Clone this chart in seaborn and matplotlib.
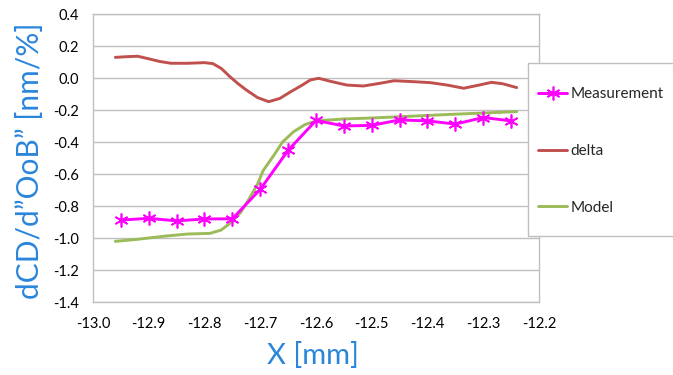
import matplotlib
matplotlib.use("Agg")
import matplotlib.pyplot as plt
import matplotlib.patches as mpatches
import seaborn as sns
import numpy as np

# ---- data ----
meas_x = [-12.95, -12.90, -12.85, -12.80, -12.75, -12.70, -12.65, -12.60,
          -12.55, -12.50, -12.45, -12.40, -12.35, -12.30, -12.25]
meas_y = [-0.888, -0.877, -0.893, -0.881, -0.880, -0.696, -0.452, -0.265,
          -0.300, -0.296, -0.262, -0.268, -0.288, -0.247, -0.268]

delta_x = [-12.96, -12.935, -12.92, -12.90, -12.88, -12.86, -12.83, -12.80,
           -12.785, -12.77, -12.755, -12.74, -12.725, -12.705, -12.685, -12.665,
           -12.645, -12.625, -12.61, -12.595, -12.575, -12.545, -12.515, -12.485,
           -12.46, -12.425, -12.395, -12.365, -12.335, -12.31, -12.285, -12.265,
           -12.24]
delta_y = [0.129, 0.134, 0.136, 0.120, 0.103, 0.092, 0.092, 0.096,
           0.090, 0.060, 0.010, -0.035, -0.075, -0.122, -0.148, -0.128,
           -0.085, -0.045, -0.012, -0.002, -0.020, -0.044, -0.050, -0.033,
           -0.017, -0.023, -0.029, -0.044, -0.064, -0.046, -0.027, -0.036,
           -0.060]

model_x = [-12.96, -12.92, -12.87, -12.83, -12.79, -12.77, -12.755, -12.735,
           -12.72, -12.705, -12.695, -12.675, -12.66, -12.64, -12.62, -12.60,
           -12.575, -12.55, -12.50, -12.45, -12.40, -12.35, -12.30, -12.24]
model_y = [-1.021, -1.008, -0.988, -0.975, -0.971, -0.950, -0.910, -0.840,
           -0.755, -0.665, -0.580, -0.480, -0.400, -0.335, -0.292, -0.268,
           -0.262, -0.256, -0.250, -0.242, -0.234, -0.226, -0.219, -0.210]

x_ticks = [-13.0, -12.9, -12.8, -12.7, -12.6, -12.5, -12.4, -12.3, -12.2]
y_ticks = [0.4, 0.2, 0.0, -0.2, -0.4, -0.6, -0.8, -1.0, -1.2, -1.4]

series_names = ["Measurement", "delta", "Model"]
series_colors = ["#FF00FF", "#C0504D", "#9BBB59"]

# ---- style ----
sns.set_style("white")
plt.rcParams["font.family"] = ["Lato", "DejaVu Sans"]

W, H = 673, 375
fig = plt.figure(figsize=(W / 100, H / 100), dpi=100)
L, R, T, B = 93, 539, 14, 302
ax = fig.add_axes([L / W, 1 - B / H, (R - L) / W, (B - T) / H])

lw = 2.1
sns.lineplot(x=meas_x, y=meas_y, ax=ax, color=series_colors[0], lw=lw,
             marker=(6, 2, 0), markersize=10, markeredgewidth=1.2,
             markeredgecolor=series_colors[0], label=series_names[0], zorder=4)
sns.lineplot(x=delta_x, y=delta_y, ax=ax, color=series_colors[1], lw=lw,
             label=series_names[1], zorder=3)
sns.lineplot(x=model_x, y=model_y, ax=ax, color=series_colors[2], lw=lw,
             label=series_names[2], zorder=3)

ax.set_xlim(-13.0, -12.2)
ax.set_ylim(-1.4, 0.4)
ax.set_xticks(x_ticks)
ax.set_xticklabels([f"{v:.1f}" for v in x_ticks])
ax.set_yticks(y_ticks)
ax.set_yticklabels([f"{v:.1f}" for v in y_ticks])
ax.tick_params(axis="both", length=0, labelsize=10.5, colors="#000000")
ax.tick_params(axis="y", pad=10)
ax.tick_params(axis="x", pad=11)
ax.yaxis.grid(True, color="#BFBFBF", lw=1.0)
ax.xaxis.grid(False)
for s in ax.spines.values():
    s.set_color("#BFBFBF")
    s.set_linewidth(1.0)

blue = "#2A86DB"
ax.set_xlabel("X [mm]", color=blue, fontsize=21)
ax.xaxis.label.set_va("center")
ax.xaxis.set_label_coords((313 - L) / (R - L), (B - 355) / (B - T))
ax.set_ylabel("dCD/d\u201dOoB\u201d [nm/%]", color=blue, fontsize=21.5)
ax.yaxis.label.set_va("center")
ax.yaxis.set_label_coords((30 - L) / (R - L), (B - 161) / (B - T))

# legend box
handles, labels = ax.get_legend_handles_labels()
ax.legend_.remove()
box = mpatches.Rectangle((528 / W, 1 - 236 / H), 0.5, (236 - 63) / H,
                         transform=fig.transFigure, facecolor="white",
                         edgecolor="#BFBFBF", lw=1.0, zorder=2)
fig.patches.append(box)
leg = fig.legend(handles, labels, loc="upper left",
                 bbox_to_anchor=(526 / W, 1 - 75 / H), frameon=False,
                 fontsize=11, handlelength=1.9, handletextpad=0.2,
                 labelspacing=2.8, borderpad=0.3)
leg.set_zorder(5)

fig.savefig("out.png", dpi=100)
